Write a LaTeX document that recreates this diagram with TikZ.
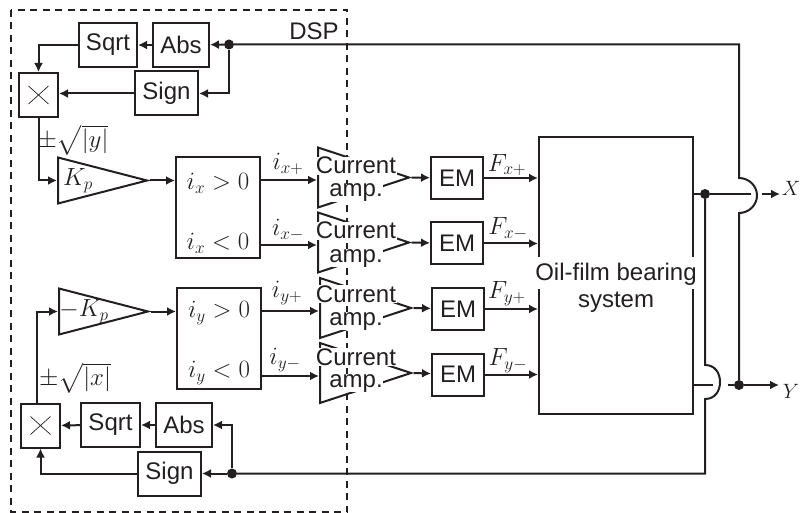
\documentclass[tikz,border=0pt]{standalone}
\usepackage{amsmath}
\usepackage[no-math]{fontspec}
\setmainfont{Liberation Sans}
\usetikzlibrary{shapes.geometric, arrows.meta}
\definecolor{ink}{HTML}{231F20}
\tikzset{
	every node/.style={font=\fontsize{24}{28}\selectfont, text=ink},
	wire/.style={draw=ink, line width=2pt},
	arr/.style={wire, -{Latex[length=9pt, width=9pt]}},
	block/.style={draw=ink, line width=2pt, inner sep=0pt, minimum height=44pt},
	amptri/.style={isosceles triangle, isosceles triangle stretches, shape border rotate=0,
		draw=ink, line width=2pt, inner sep=0pt, anchor=lower side, minimum height=91pt, minimum width=60pt},
	gaintri/.style={amptri, minimum height=89pt, minimum width=46pt},
	amptext/.style={fill=white, inner sep=0.5pt, anchor=base},
	outlabel/.style={font=\fontsize{20}{24}\selectfont},
	junct/.style={circle, fill=ink, inner sep=0pt, minimum size=10pt},
}
\begin{document}
\begin{tikzpicture}[x=1pt, y=-1pt]
	\useasboundingbox (0,0) rectangle (801,513);
	\draw [draw=ink, line width=1.6pt, dash pattern=on 7pt off 5.5pt] (11,10) rectangle (347,512);
	\node (dsp) at (314,31) {DSP};

	\node [block, minimum width=58pt] (sqrt1) at (108,45) {Sqrt};
	\node [block, minimum width=56pt] (abs1) at (181,45) {Abs};
	\node [block, minimum width=63pt] (sign1) at (166.5,93.5) {Sign};
	\node [block, minimum width=39pt] (mult1) at (38.5,95) {};
	\node [junct] (dot1) at (229,44.5) {};
	\node [gaintri] (gain1) at (57,180.5) {};
	\node (kp1) at (78,181) {$K_p$};
	\node (root1) at (73,140) {$\pm\sqrt{|y|}$};

	\node [block, minimum width=59pt] (sqrt2) at (110.5,425) {Sqrt};
	\node [block, minimum width=56pt] (abs2) at (184,425) {Abs};
	\node [block, minimum width=63pt] (sign2) at (169.5,473.5) {Sign};
	\node [block, minimum width=39pt] (mult2) at (40.5,425.5) {};
	\node [junct] (dot2) at (232,473.5) {};
	\node [gaintri] (gain2) at (58,311.5) {};
	\node (kp2) at (84,312) {$-K_p$};
	\node (root2) at (75,378) {$\pm\sqrt{|x|}$};

	\draw [ink, line width=.7pt] (mult1) +(-10,-9) -- +(10,9) (mult1) +(-10,9) -- +(10,-9);
	\draw [ink, line width=.7pt] (mult2) +(-10,-9) -- +(10,9) (mult2) +(-10,9) -- +(10,-9);

	\node [block] (ixbox) [minimum width=84pt, minimum height=101pt] at (218,207.5) {};
	\node (ixp) at (218,183) {$i_x>0$};
	\node (ixn) at (218,243) {$i_x<0$};
	\node [block] (iybox) [minimum width=84pt, minimum height=101pt] at (219,338.5) {};
	\node (iyp) at (219,313) {$i_y>0$};
	\node (iyn) at (219,373) {$i_y<0$};

	\node [amptri] (amp1) at (317,177.5) {};
	\node [amptri] (amp2) at (317,242.5) {};
	\node [amptri] (amp3) at (319,308) {};
	\node [amptri] (amp4) at (319,373) {};
	\coordinate (in1) at (317,180);
	\coordinate (in2) at (317,245);
	\coordinate (in3) at (319,311);
	\coordinate (in4) at (319,376);

	\node [block, minimum width=52pt, minimum height=42pt] (em1) at (457,178) {EM};
	\node [block, minimum width=52pt, minimum height=42pt] (em2) at (457,243.5) {EM};
	\node [block, minimum width=52pt, minimum height=42pt] (em3) at (458,309) {EM};
	\node [block, minimum width=52pt, minimum height=42pt] (em4) at (458,374.5) {EM};
	\node [block, minimum width=154pt, minimum height=277pt] (plant) at (616,275.5) {};

	\node (ixplus) at (288,164) {$i_{x+}$};
	\node (ixminus) at (288,230) {$i_{x-}$};
	\node (iyplus) at (287,293) {$i_{y+}$};
	\node (iyminus) at (285,360) {$i_{y-}$};
	\node (fxplus) at (507,165) {$F_{x+}$};
	\node (fxminus) at (508,229) {$F_{x-}$};
	\node (fyplus) at (507,294) {$F_{y+}$};
	\node (fyminus) at (508,361) {$F_{y-}$};

	\node [junct] (xdot) at (705,194) {};
	\node [junct] (ydot) at (739,385) {};
	\node [outlabel, inner sep=0pt] (X) at (791,188) {$X$};
	\node [outlabel, inner sep=0pt] (Y) at (791,391) {$Y$};
	\coordinate (xgap1) at (751,194);
	\coordinate (xgap2) at (762,194);
	\coordinate (xend) at (780,194);
	\coordinate (ygap1) at (713,385);
	\coordinate (ygap2) at (728,385);
	\coordinate (yend) at (779,385);
	\coordinate (jx1) at (739,178);
	\coordinate (jx2) at (739,213);
	\coordinate (jy1) at (705,365);
	\coordinate (jy2) at (705,399);
	\coordinate (topc) at (739,44.5);
	\coordinate (botc) at (705,473.5);

	\draw [arr] (dot1) -- (abs1);
	\draw [arr] (abs1) -- (sqrt1);
	\draw [arr] (sqrt1) -| (mult1);
	\draw [arr] (dot1) |- (sign1);
	\draw [arr] (sign1.west) -- (sign1.west -| mult1.east);
	\draw [arr] (mult1) |- (gain1.lower side);
	\draw [arr] (gain1.apex) -- (gain1.apex -| ixbox.west);

	\draw [arr] (dot2) |- (abs2);
	\draw [arr] (abs2) -- (sqrt2);
	\draw [arr] (sqrt2) -- (mult2);
	\draw [arr] (dot2) -- (sign2);
	\draw [arr] (sign2) -| (mult2);
	\draw [arr] ([xshift=-3.5pt]mult2.north) |- (gain2.lower side);
	\draw [arr] (gain2.apex) -- (gain2.apex -| iybox.west);

	\draw [arr] (in1 -| ixbox.east) -- (in1);
	\draw [arr] (in2 -| ixbox.east) -- (in2);
	\draw [arr] (in3 -| iybox.east) -- (in3);
	\draw [arr] (in4 -| iybox.east) -- (in4);
	\draw [arr] (amp1.apex) -- (em1);
	\draw [arr] (amp2.apex) -- (em2);
	\draw [arr] (amp3.apex) -- (em3);
	\draw [arr] (amp4.apex) -- (em4);
	\draw [arr] (em1) -- (em1 -| plant.west);
	\draw [arr] (em2) -- (em2 -| plant.west);
	\draw [arr] (em3) -- (em3 -| plant.west);
	\draw [arr] (em4) -- (em4 -| plant.west);

	\draw [wire] (xdot -| plant.east) -- (xdot) -- (xgap1);
	\draw [arr] (xgap2) -- (xend);
	\draw [wire] (ydot -| plant.east) -- (ygap1);
	\draw [wire] (ygap2) -- (ydot);
	\draw [arr] (ydot) -- (yend);
	\draw [wire] (ydot) -- (jx2) .. controls (749,213) and (757,205) .. (757,195.5)
		.. controls (757,186) and (749,178) .. (jx1) -- (topc) -- (dot1);
	\draw [wire] (xdot) -- (jy1) .. controls (715,365) and (720,373) .. (720,382)
		.. controls (720,391) and (715,399) .. (jy2) -- (botc) -- (dot2);

	\node [amptext] (cur1) at (356,174) {Current};
	\node [amptext] (amptx1) at (356,197) {amp.};
	\node [amptext] (cur2) at (356,239) {Current};
	\node [amptext] (amptx2) at (356,262) {amp.};
	\node [amptext] (cur3) at (356,302) {Current};
	\node [amptext] (amptx3) at (356,325) {amp.};
	\node [amptext] (cur4) at (356,365) {Current};
	\node [amptext] (amptx4) at (356,387) {amp.};

	\node [fill=white, inner xsep=1pt, inner ysep=0pt, text height=23pt, text depth=9pt, anchor=base] (oil) at (616,280) {Oil-film bearing};
	\node [anchor=base] (sys) at (616,308) {system};
\end{tikzpicture}
\end{document}
